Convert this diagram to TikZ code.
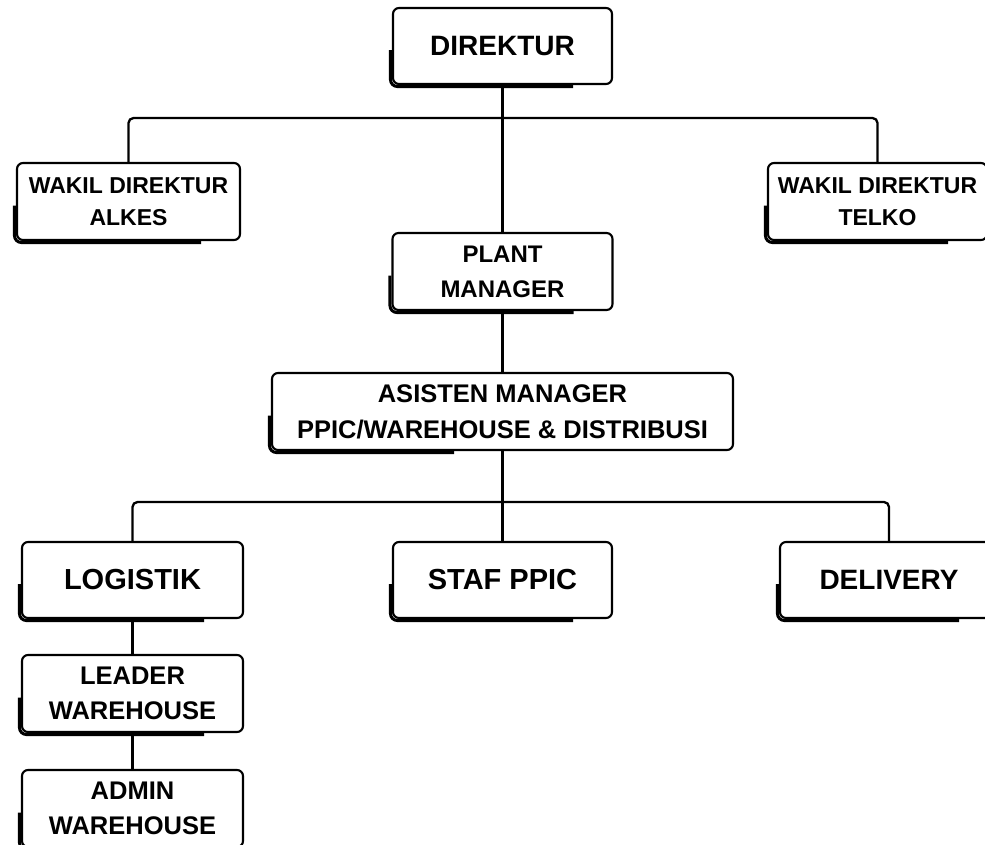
\documentclass[tikz,border=0pt]{standalone}
\usepackage{fontspec}
\setmainfont{Liberation Sans}
\begin{document}
\begin{tikzpicture}[x=1pt,y=-1pt,
  box/.style={draw, line width=2.1pt, rounded corners=6pt, align=center, inner sep=0pt, fill=white},
  shadeline/.style={line width=3pt, rounded corners=7pt},
  link/.style={line width=2.3pt, rounded corners=5pt},
  fa/.style={font=\fontsize{28}{32}\selectfont\bfseries},
  fb/.style={font=\fontsize{23}{32}\selectfont\bfseries},
  fc/.style={font=\fontsize{24}{35}\selectfont\bfseries},
  fd/.style={font=\fontsize{25.5}{36}\selectfont\bfseries},
  fe/.style={font=\fontsize{29}{33}\selectfont\bfseries},
  ff/.style={font=\fontsize{25.5}{35}\selectfont\bfseries}]
\useasboundingbox (0,0) rectangle (985,844);
\clip (0,0) rectangle (985,844);
\fill[white] (0,0) rectangle (985,844);

% connectors
\coordinate (bus1) at (502.5,118);
\coordinate (bus2) at (502.5,502);

\node[box, fa, minimum width=219pt, minimum height=76pt] (dir) at (502.5,46) {DIREKTUR};
\node[box, fb, minimum width=223pt, minimum height=77pt] (wa) at (128.5,201.5) {WAKIL DIREKTUR\\ALKES};
\node[box, fb, minimum width=219pt, minimum height=77pt] (wt) at (877.5,201.5) {WAKIL DIREKTUR\\TELKO};
\node[box, fc, minimum width=220pt, minimum height=77pt] (pm) at (502.5,271.5) {PLANT\\MANAGER};
\node[box, fd, minimum width=461pt, minimum height=77pt] (am) at (502.5,411.5) {ASISTEN MANAGER\\PPIC/WAREHOUSE \& DISTRIBUSI};
\node[box, fe, minimum width=221pt, minimum height=76pt] (log) at (132.5,580) {LOGISTIK};
\node[box, fe, minimum width=219pt, minimum height=76pt] (sp) at (502.5,580) {STAF PPIC};
\node[box, fa, minimum width=218pt, minimum height=76pt] (del) at (889,580) {DELIVERY};
\node[box, ff, minimum width=221pt, minimum height=77pt] (lw) at (132.5,693.5) {LEADER\\WAREHOUSE};
\node[box, ff, minimum width=221pt, minimum height=77pt] (aw) at (132.5,808.5) {ADMIN\\WAREHOUSE};

\draw[link] (dir.south) -- (pm.north);
\draw[link] (wa.north) |- (bus1) -| (wt.north);
\draw[link] (pm.south) -- (am.north);
\draw[link] (am.south) -- (sp.north);
\draw[link] (log.north) |- (bus2) -| (del.north);
\draw[link] (log.south) -- (lw.north);
\draw[link] (lw.south) -- (aw.north);

% sketchy shadows on the lower left
\foreach \n/\e in {dir/40pt, wa/40pt, wt/40pt, pm/40pt, am/280pt, log/40pt, sp/40pt, del/40pt, lw/40pt, aw/40pt}
  \draw[shadeline] ([xshift=-1.5pt,yshift=-4pt]\n.west) -- ([xshift=-1.5pt,yshift=-1.5pt]\n.south west) -- ([xshift=-\e,yshift=-1.5pt]\n.south east);
\end{tikzpicture}
\end{document}
